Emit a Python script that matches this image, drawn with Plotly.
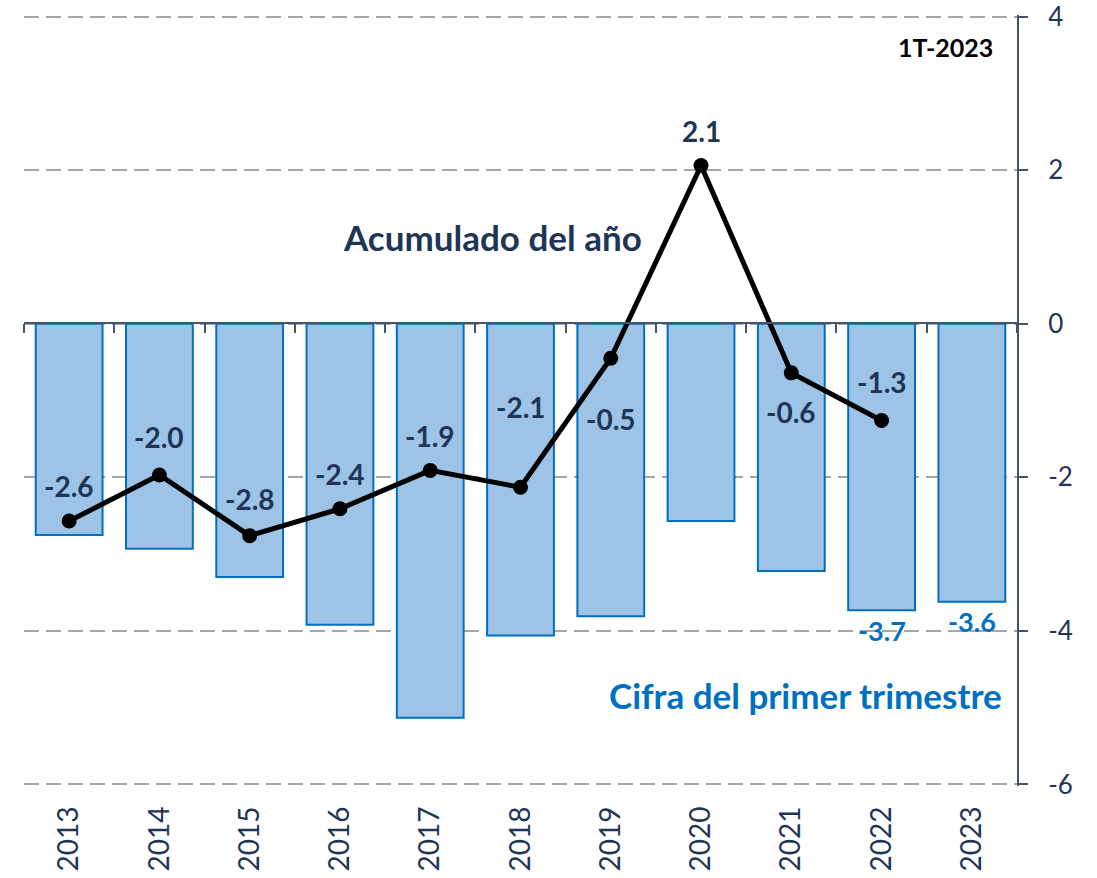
import plotly.graph_objects as go

years = ["2013", "2014", "2015", "2016", "2017", "2018", "2019", "2020", "2021", "2022", "2023"]
q1_values = [-2.75, -2.93, -3.30, -3.92, -5.13, -4.06, -3.81, -2.57, -3.22, -3.73, -3.62]
cum_years = ["2013", "2014", "2015", "2016", "2017", "2018", "2019", "2020", "2021", "2022"]
cum_values = [-2.57, -1.97, -2.76, -2.41, -1.91, -2.13, -0.45, 2.06, -0.64, -1.26]
cum_labels = ["-2.6", "-2.0", "-2.8", "-2.4", "-1.9", "-2.1", "-0.5", "2.1", "-0.6", "-1.3"]
cum_label_shift = [35, 38, 37, 35, 34, 80, -61, 35, -39, 38]
bar_label_years = ["2022", "2023"]
bar_label_values = [-3.73, -3.62]
bar_label_texts = ["-3.7", "-3.6"]
y_ticks = [-6, -4, -2, 0, 2, 4]
y_tick_text = ["-6", "-4", "-2", "0", "2", "4"]

NAVY = "#1F3556"
AXIS = "#44546A"
BLUE = "#0070C0"
FONT = "Lato"

fig = go.Figure()
fig.add_trace(go.Bar(
    x=years, y=q1_values, xaxis="x", yaxis="y",
    marker=dict(color="#9DC3E6", line=dict(color=BLUE, width=2)),
    showlegend=False, hoverinfo="skip",
))
fig.add_trace(go.Scatter(
    x=cum_years, y=cum_values, xaxis="x2", yaxis="y",
    mode="lines+markers",
    line=dict(color="black", width=5),
    marker=dict(color="black", size=15),
    showlegend=False, hoverinfo="skip",
))

annotations = []
for xv, yv, txt, sh in zip(cum_years, cum_values, cum_labels, cum_label_shift):
    annotations.append(dict(x=years.index(xv), y=yv, xref="x", yref="y", text=txt, showarrow=False,
                            xanchor="center", yanchor="middle", yshift=sh,
                            font=dict(family=FONT, size=28, color=NAVY, weight="bold")))
for xv, yv, txt in zip(bar_label_years, bar_label_values, bar_label_texts):
    annotations.append(dict(x=years.index(xv), y=yv, xref="x", yref="y", text=txt, showarrow=False,
                            xanchor="center", yanchor="middle", yshift=-20,
                            font=dict(family=FONT, size=27, color=BLUE, weight="bold")))
annotations.append(dict(x=0.9275, y=0.9585, xref="paper", yref="paper", text="1T-2023", showarrow=False,
                        xanchor="center", yanchor="middle",
                        font=dict(family=FONT, size=25, color="black", weight="bold")))
annotations.append(dict(x=0.4713, y=0.712, xref="paper", yref="paper", text="Acumulado del año", showarrow=False,
                        xanchor="center", yanchor="middle",
                        font=dict(family=FONT, size=35, color=NAVY, weight="bold")))
annotations.append(dict(x=0.7875, y=0.118, xref="paper", yref="paper", text="Cifra del primer trimestre", showarrow=False,
                        xanchor="center", yanchor="middle",
                        font=dict(family=FONT, size=35, color=BLUE, weight="bold")))

fig.update_layout(
    width=1097, height=878,
    margin=dict(l=24, r=80, t=15, b=92, autoexpand=False),
    paper_bgcolor="white", plot_bgcolor="white",
    bargap=0.26,
    font=dict(family=FONT, color=NAVY),
    xaxis=dict(
        type="category", categoryorder="array", categoryarray=years,
        range=[-0.5, len(years) - 0.5], automargin=False,
        showline=False, showgrid=False, zeroline=False, ticks="",
        tickangle=-90, ticklabelstandoff=14,
        tickfont=dict(family=FONT, size=28, color=NAVY),
    ),
    xaxis2=dict(
        type="category", categoryorder="array", categoryarray=years,
        range=[-0.5, len(years) - 0.5], automargin=False,
        overlaying="x", anchor="free", position=0.6,
        showline=True, linecolor=AXIS, linewidth=2,
        ticks="outside", tickson="boundaries", ticklen=9, tickwidth=2, tickcolor=AXIS,
        showticklabels=False, showgrid=False, zeroline=False,
    ),
    yaxis=dict(
        side="right", range=[-6.02, 4.02], tickvals=y_ticks, ticktext=y_tick_text,
        automargin=False,
        showline=True, linecolor=AXIS, linewidth=2,
        ticks="outside", ticklen=9, tickwidth=2, tickcolor=AXIS,
        showgrid=True, gridcolor="#A6A6A6", gridwidth=2, griddash="15px,7px",
        zeroline=False, ticklabelstandoff=15, ticklabeloverflow="allow",
        tickfont=dict(family=FONT, size=26, color=NAVY),
    ),
    annotations=annotations,
)

fig.write_html("out.html", config={"displayModeBar": False},
               post_script="document.body.style.margin='0px';")
